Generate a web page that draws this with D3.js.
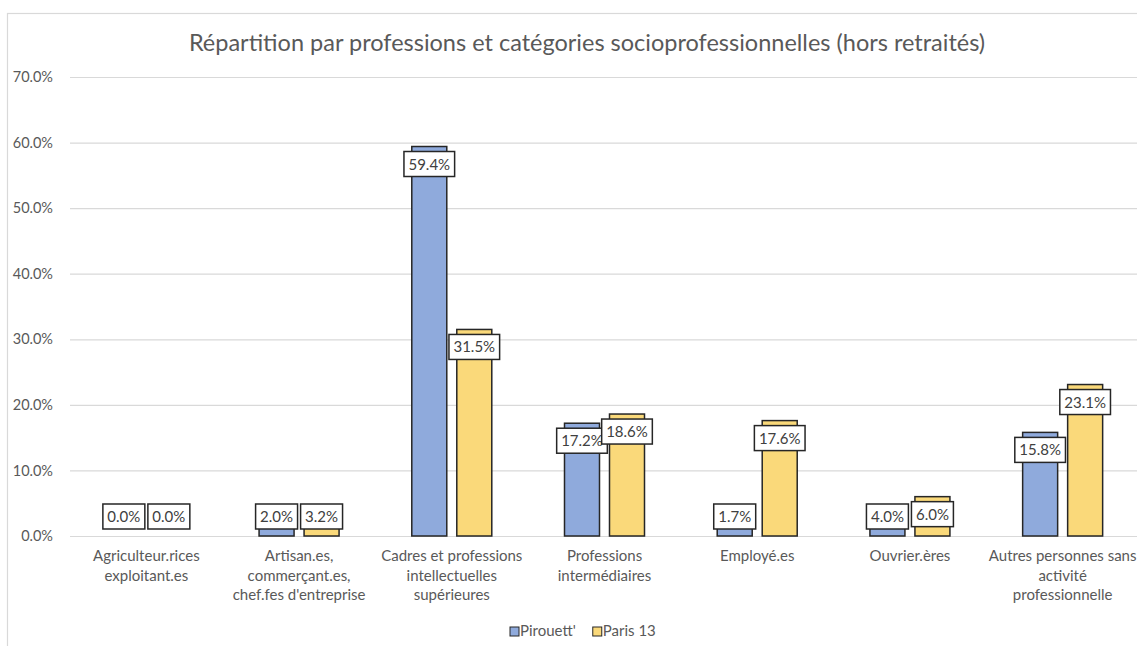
<!DOCTYPE html>
<html>
<head>
<meta charset="utf-8">
<script src="https://cdn.jsdelivr.net/npm/d3@7"></script>
<style>
  html, body { margin: 0; padding: 0; background: #fff; }
  svg { display: block; }
  text { font-family: Lato, "Open Sans", sans-serif; }
</style>
</head>
<body>
<svg id="chart" width="1137" height="646"></svg>
<script>
const title = "Répartition par professions et catégories socioprofessionnelles (hors retraités)";
const categories = [
  "Agriculteur.rices\nexploitant.es",
  "Artisan.es,\ncommerçant.es,\nchef.fes d'entreprise",
  "Cadres et professions\nintellectuelles\nsupérieures",
  "Professions\nintermédiaires",
  "Employé.es",
  "Ouvrier.ères",
  "Autres personnes sans\nactivité\nprofessionnelle"
];
const seriesNames = ["Pirouett'", "Paris 13"];
const pirouett = [0.0, 2.0, 59.4, 17.2, 1.7, 4.0, 15.8];
const paris13 = [0.0, 3.2, 31.5, 18.6, 17.6, 6.0, 23.1];
const yTicks = [0, 10, 20, 30, 40, 50, 60, 70];
const colors = ["#8FAADC", "#FAD97A"];

const svg = d3.select("#chart");
const plot = { left: 70, right: 1139, top: 77, bottom: 536 };

// chart frame
svg.append("rect").attr("x", 7.5).attr("y", 13.5).attr("width", 1140).attr("height", 700)
  .attr("fill", "#fff").attr("stroke", "#D9D9D9").attr("stroke-width", 1.2);

const y = d3.scaleLinear().domain([0, 70]).range([plot.bottom, plot.top]);
const x0 = d3.scaleBand().domain(categories).range([plot.left, plot.right]).paddingInner(0).paddingOuter(0);
const groupW = 80;
const x1 = d3.scaleBand().domain(seriesNames)
  .range([(x0.bandwidth() - groupW) / 2, (x0.bandwidth() + groupW) / 2])
  .paddingInner(2 - groupW / 45).paddingOuter(0);

// gridlines + y labels
const yAxis = d3.axisLeft(y).tickValues(yTicks).tickSize(-(plot.right - plot.left))
  .tickFormat(d => d.toFixed(1) + "%").tickPadding(17);
const gy = svg.append("g").attr("transform", `translate(${plot.left},0)`).call(yAxis);
gy.select(".domain").remove();
gy.selectAll(".tick line").attr("stroke", "#D9D9D9").attr("stroke-width", 1.2);
gy.selectAll(".tick text").attr("fill", "#595959").style("font-size", "14.5px");

// x axis labels
const xAxis = d3.axisBottom(x0).tickSize(0).tickFormat(() => "");
const gx = svg.append("g").attr("transform", `translate(0,${plot.bottom})`).call(xAxis);
gx.select(".domain").attr("stroke", "#D9D9D9").attr("stroke-width", 1.2);
gx.selectAll(".tick").each(function(d) {
  const lines = d.split("\n");
  const t = d3.select(this).append("text").attr("fill", "#595959").attr("text-anchor", "middle")
    .style("font-size", "15px");
  lines.forEach((ln, i) => {
    t.append("tspan").attr("x", 0).attr("y", 25 + i * 19.5).text(ln);
  });
});

// bars
const data = categories.map((c, i) => ({ cat: c, vals: [
  { s: seriesNames[0], v: pirouett[i], c: colors[0] },
  { s: seriesNames[1], v: paris13[i], c: colors[1] }
]}));

const groups = svg.append("g").selectAll("g").data(data).join("g")
  .attr("transform", d => `translate(${x0(d.cat)},0)`);
groups.selectAll("rect").data(d => d.vals).join("rect")
  .attr("x", d => x1(d.s))
  .attr("y", d => y(d.v))
  .attr("width", x1.bandwidth())
  .attr("height", d => y(0) - y(d.v))
  .attr("fill", d => d.c)
  .attr("stroke", "#262626").attr("stroke-width", 1.5);

// data labels
const labelLayer = svg.append("g");
seriesNames.forEach((s, si) => {
  data.forEach(d => {
    const item = d.vals[si];
    const cx = x0(d.cat) + x1(s) + x1.bandwidth() / 2;
    const boxH = 25;
    const top = Math.min(y(item.v) + 5, plot.bottom - 32);
    const g = labelLayer.append("g");
    const rect = g.append("rect");
    const txt = g.append("text").attr("x", cx).attr("y", top + boxH / 2 + 5.5)
      .attr("text-anchor", "middle").attr("fill", "#404040").style("font-size", "15px")
      .text(item.v.toFixed(1) + "%");
    const w = txt.node().getComputedTextLength() + 9;
    rect.attr("x", cx - w / 2).attr("y", top).attr("width", w).attr("height", boxH)
      .attr("fill", "#fff").attr("stroke", "#262626").attr("stroke-width", 1.5);
  });
});

// title
svg.append("text").attr("x", 587).attr("y", 51).attr("text-anchor", "middle")
  .attr("fill", "#595959").style("font-size", "23.5px").text(title);

// legend
const legend = svg.append("g").attr("transform", "translate(510,631)");
let lx = 0;
seriesNames.forEach((s, i) => {
  const g = legend.append("g").attr("transform", `translate(${lx},0)`);
  g.append("rect").attr("x", 0).attr("y", -4).attr("width", 9).attr("height", 9)
    .attr("fill", colors[i]).attr("stroke", "#262626").attr("stroke-width", 1);
  const t = g.append("text").attr("x", 10).attr("y", 5).attr("fill", "#595959")
    .style("font-size", "15px").text(s);
  lx += 10 + t.node().getComputedTextLength() + 17;
});
</script>
</body>
</html>
